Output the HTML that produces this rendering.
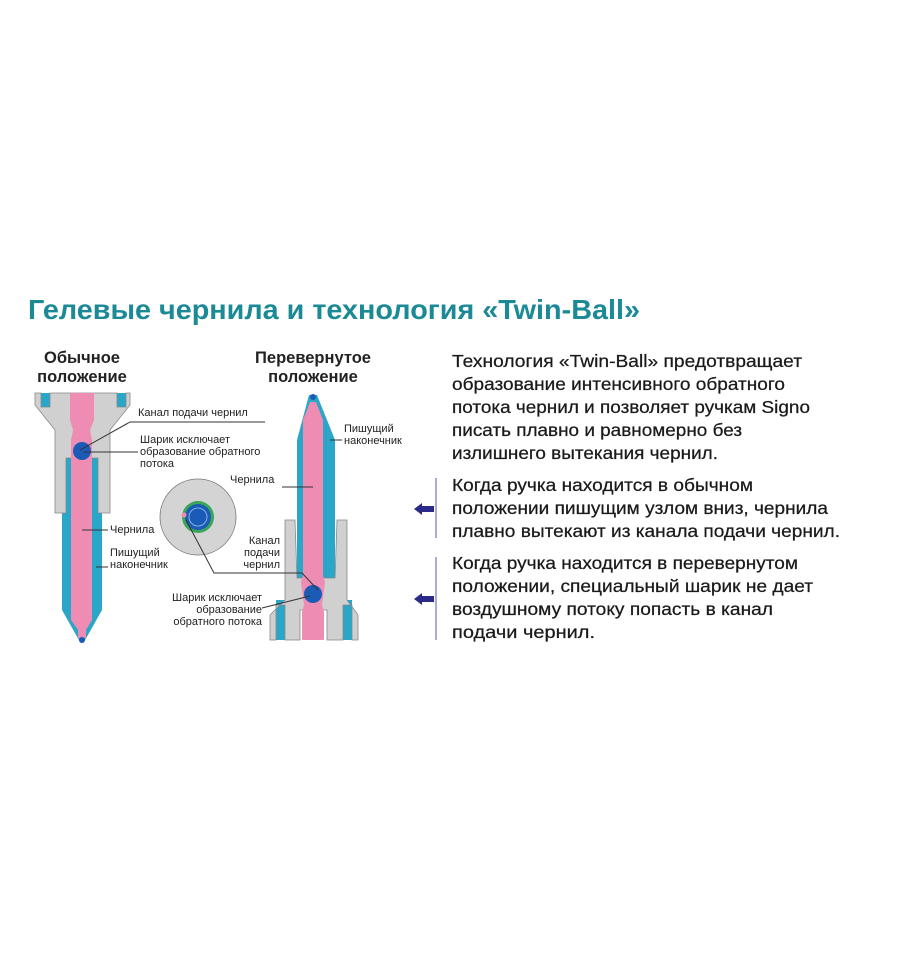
<!DOCTYPE html>
<html><head><meta charset="utf-8"><style>
html,body{margin:0;padding:0;background:#fff;}
svg{display:block;}
text{font-family:"Liberation Sans","DejaVu Sans",sans-serif;}
</style></head><body>
<svg width="900" height="962" viewBox="0 0 900 962" xmlns="http://www.w3.org/2000/svg">
<text x="28" y="319" font-size="28" font-weight="bold" fill="#1c8a96" textLength="612" lengthAdjust="spacingAndGlyphs">Гелевые чернила и технология «Twin-Ball»</text>

<g font-weight="bold" font-size="16.5" fill="#222" text-anchor="middle">
<text x="82" y="363">Обычное</text><text x="82" y="382">положение</text>
<text x="313" y="363">Перевернутое</text><text x="313" y="382">положение</text>
</g>
<rect x="41" y="393" width="9" height="14" fill="#2aa6c8"/>
<rect x="117" y="393" width="9" height="14" fill="#2aa6c8"/>
<path d="M62 445 L102 445 L102 610 L84 642 L80 642 L62 610 Z" fill="#2aa6c8"/>
<path d="M35 393 L41 393 L41 407 L50 407 L50 393 L117 393 L117 407 L126 407 L126 393 L130 393 L130 405 L110 430 L110 513 L98 513 L98 458 L66 458 L66 513 L55 513 L55 430 L35 405 Z" fill="#d0d0d0" stroke="#888" stroke-width="0.8"/>
<path d="M70 393 L94 393 L94 420 L90 430 L92 440 L92 620 L86 630 L86 638 L78 638 L78 630 L71 620 L71 440 L73 430 L70 420 Z" fill="#ee8cb4"/>
<circle cx="82" cy="451" r="9" fill="#1c5bb5"/>
<circle cx="82" cy="640" r="3" fill="#1c5bb5"/>

<path d="M309 395 L317 395 L335 440 L335 578 L297 578 L297 440 Z" fill="#2aa6c8"/>
<rect x="276" y="600" width="9" height="40" fill="#2aa6c8"/>
<rect x="343" y="600" width="9" height="40" fill="#2aa6c8"/>
<path d="M285 520 L295 520 L297 578 L335 578 L337 520 L347 520 L347 600 L358 615 L358 640 L352 640 L352 605 L343 605 L343 640 L327 640 L327 610 L300 610 L300 640 L285 640 L285 605 L276 605 L276 640 L270 640 L270 615 L285 600 Z" fill="#d0d0d0" stroke="#888" stroke-width="0.8"/>
<path d="M310 402 L316 402 L323 420 L323 575 L325 582 L322 605 L324 612 L324 640 L302 640 L302 612 L304 605 L301 582 L303 575 L303 420 Z" fill="#ee8cb4"/>
<circle cx="313" cy="594" r="9" fill="#1c5bb5"/>
<circle cx="313" cy="397" r="3" fill="#1c5bb5"/>

<circle cx="198" cy="517" r="38" fill="#d4d4d4" stroke="#777" stroke-width="0.8"/>
<circle cx="198" cy="517" r="16" fill="#3aa65a"/>
<circle cx="198" cy="517" r="13" fill="#1c5bb5"/>
<circle cx="198" cy="517" r="9" fill="none" stroke="#7fb0e8" stroke-width="1"/>
<circle cx="184" cy="515" r="2.5" fill="#ee8cb4"/>

<g stroke="#333" stroke-width="1" fill="none">
<path d="M80 450 L130 422 L265 422"/>
<path d="M84 452 L138 452"/>
<path d="M82 530 L108 530"/>
<path d="M96 567 L108 567"/>
<path d="M186 520 L214 573 L302 573 L318 590"/>
<path d="M313 487 L282 487"/>
<path d="M330 440 L342 440"/>
<path d="M310 596 L262 608"/>
</g>

<g font-size="11" fill="#222">
<text x="138" y="416">Канал подачи чернил</text>
<text x="140" y="443">Шарик исключает</text>
<text x="140" y="455">образование обратного</text>
<text x="140" y="467">потока</text>
<text x="110" y="533">Чернила</text>
<text x="110" y="556">Пишущий</text>
<text x="110" y="568">наконечник</text>
<text x="230" y="483">Чернила</text>
<text x="344" y="432">Пишущий</text>
<text x="344" y="444">наконечник</text>
<g text-anchor="end">
<text x="280" y="544">Канал</text>
<text x="280" y="556">подачи</text>
<text x="280" y="568">чернил</text>
<text x="262" y="601">Шарик исключает</text>
<text x="262" y="613">образование</text>
<text x="262" y="625">обратного потока</text>
</g>
</g>

<g font-size="17.5" fill="#1a1a1a" stroke="#1a1a1a" stroke-width="0.25">
<text x="452" y="367" textLength="350" lengthAdjust="spacingAndGlyphs">Технология «Twin-Ball» предотвращает</text>
<text x="452" y="390" textLength="333" lengthAdjust="spacingAndGlyphs">образование интенсивного обратного</text>
<text x="452" y="413" textLength="358" lengthAdjust="spacingAndGlyphs">потока чернил и позволяет ручкам Signo</text>
<text x="452" y="436" textLength="290" lengthAdjust="spacingAndGlyphs">писать плавно и равномерно без</text>
<text x="452" y="459" textLength="266" lengthAdjust="spacingAndGlyphs">излишнего вытекания чернил.</text>
<text x="452" y="491" textLength="301" lengthAdjust="spacingAndGlyphs">Когда ручка находится в обычном</text>
<text x="452" y="514" textLength="376" lengthAdjust="spacingAndGlyphs">положении пишущим узлом вниз, чернила</text>
<text x="452" y="537" textLength="388" lengthAdjust="spacingAndGlyphs">плавно вытекают из канала подачи чернил.</text>
<text x="452" y="569" textLength="346" lengthAdjust="spacingAndGlyphs">Когда ручка находится в перевернутом</text>
<text x="452" y="592" textLength="361" lengthAdjust="spacingAndGlyphs">положении, специальный шарик не дает</text>
<text x="452" y="615" textLength="321" lengthAdjust="spacingAndGlyphs">воздушному потоку попасть в канал</text>
<text x="452" y="638" textLength="143" lengthAdjust="spacingAndGlyphs">подачи чернил.</text>
</g>
<g stroke="#8f8fcf" stroke-width="1.5">
<line x1="436" y1="478" x2="436" y2="538"/>
<line x1="436" y1="557" x2="436" y2="640"/>
</g>
<g fill="#2a2a8c">
<path d="M414 509 L422 503 L422 506 L434 506 L434 512 L422 512 L422 515 Z"/>
<path d="M414 599 L422 593 L422 596 L434 596 L434 602 L422 602 L422 605 Z"/>
</g>
</svg>
</body></html>
